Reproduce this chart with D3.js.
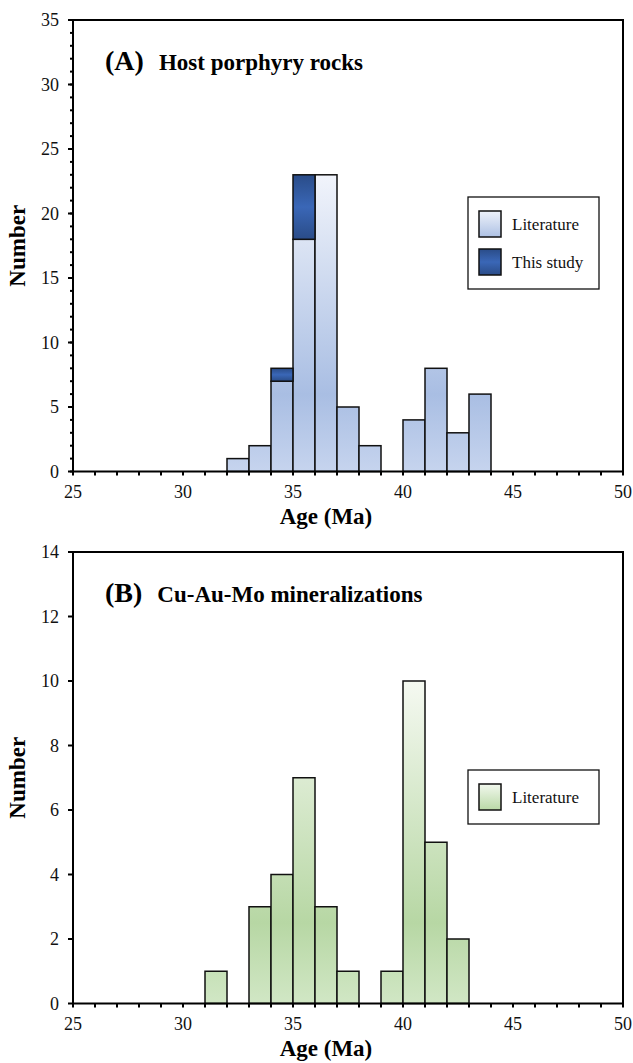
<!DOCTYPE html>
<html>
<head>
<meta charset="utf-8">
<script src="https://cdn.jsdelivr.net/npm/d3@7"></script>
<style>
  html, body { margin: 0; padding: 0; background: #fff; }
</style>
</head>
<body>
<svg id="chart" width="633" height="1063"></svg>
<script>
// Histogram bins: lower edge of each 1 Ma bin (Age, Ma)
const hostBins = [32, 33, 34, 35, 36, 37, 38, 40, 41, 42, 43];
const hostLiterature = [1, 2, 7, 18, 23, 5, 2, 4, 8, 3, 6];
const hostThisStudy = [0, 0, 1, 5, 0, 0, 0, 0, 0, 0, 0];

const mineralBins = [31, 33, 34, 35, 36, 37, 39, 40, 41, 42];
const mineralLiterature = [1, 3, 4, 7, 3, 1, 1, 10, 5, 2];

const ageTicks = [25, 30, 35, 40, 45, 50];
const hostCountTicks = [0, 5, 10, 15, 20, 25, 30, 35];
const mineralCountTicks = [0, 2, 4, 6, 8, 10, 12, 14];

const FONT = "'Liberation Serif', Tinos, 'Times New Roman', Times, serif";

const svg = d3.select("#chart").attr("font-family", FONT);
const defs = svg.append("defs");

function gradient(id, stops, coords) {
  const g = defs.append("linearGradient").attr("id", id);
  if (coords) {
    g.attr("gradientUnits", "userSpaceOnUse")
      .attr("x1", 0).attr("x2", 0).attr("y1", coords[0]).attr("y2", coords[1]);
  } else {
    g.attr("x1", 0).attr("y1", 0).attr("x2", 0).attr("y2", 1);
  }
  stops.forEach(([o, c]) => g.append("stop").attr("offset", o).attr("stop-color", c));
}

const left = 73, right = 623;

function panel(cfg) {
  const { id, top, bottom, yMax, yTicks, yMinor, label, subtitle, series, legend, ramp } = cfg;
  const g = svg.append("g").attr("font-family", FONT);
  const x = d3.scaleLinear().domain([25, 50]).range([left, right]);
  const y = d3.scaleLinear().domain([0, yMax]).range([bottom, top]);

  // shared shading for the panel's bars: light at the tallest bar, deeper lower down
  const peak = d3.max(series[0].values.map((v, i) => v + (series[1] ? series[1].values[i] : 0)));
  gradient(id + "Bars", ramp, [y(peak), bottom]);

  series.forEach(s => {
    const fill = s.fill === "panel" ? id + "Bars" : s.fill;
    g.append("g").selectAll("rect")
      .data(s.bins.map((b, i) => ({ b, v: s.values[i], base: s.base ? s.base[i] : 0 })).filter(d => d.v > 0))
      .join("rect")
      .attr("x", d => x(d.b))
      .attr("width", d => x(d.b + 1) - x(d.b))
      .attr("y", d => y(d.base + d.v))
      .attr("height", d => y(d.base) - y(d.base + d.v))
      .attr("fill", `url(#${fill})`)
      .attr("stroke", "#111")
      .attr("stroke-width", 1.5);
  });

  // frame
  g.append("rect").attr("x", left).attr("y", top)
    .attr("width", right - left).attr("height", bottom - top)
    .attr("fill", "none").attr("stroke", "#000").attr("stroke-width", 2);

  // x axis
  g.append("g").selectAll("line").data(d3.range(25, 51, 1)).join("line")
    .attr("x1", d => x(d)).attr("x2", d => x(d))
    .attr("y1", bottom).attr("y2", bottom + 4)
    .attr("stroke", "#000").attr("stroke-width", 2);
  g.append("g").selectAll("text").data(ageTicks).join("text")
    .attr("x", d => x(d)).attr("y", bottom + 26.5)
    .attr("text-anchor", "middle").attr("font-size", 18).attr("fill", "#111")
    .text(d => d);
  g.append("text").attr("x", 326).attr("y", bottom + 52)
    .attr("text-anchor", "middle").attr("font-size", 23).attr("font-weight", "bold")
    .text("Age (Ma)");

  // y axis
  if (yMinor) {
    g.append("g").selectAll("line").data(d3.range(0, yMax + 1, yMinor)).join("line")
      .attr("x1", left - 3).attr("x2", left)
      .attr("y1", d => y(d)).attr("y2", d => y(d))
      .attr("stroke", "#000").attr("stroke-width", 2);
  }
  g.append("g").selectAll("line").data(yTicks).join("line")
    .attr("x1", left - 5).attr("x2", left)
    .attr("y1", d => y(d)).attr("y2", d => y(d))
    .attr("stroke", "#000").attr("stroke-width", 2);
  g.append("g").selectAll("text").data(yTicks).join("text")
    .attr("x", left - 14).attr("y", d => y(d) + 6)
    .attr("text-anchor", "end").attr("font-size", 18).attr("fill", "#111")
    .text(d => d);
  g.append("text")
    .attr("transform", `translate(25,${(top + bottom) / 2}) rotate(-90)`)
    .attr("text-anchor", "middle").attr("font-size", 23).attr("font-weight", "bold")
    .text("Number");

  // panel title
  const t = g.append("text").attr("x", 105).attr("y", top + 50).attr("font-weight", "bold");
  t.append("tspan").attr("font-size", 28).text(label);
  t.append("tspan").attr("font-size", 23).attr("dx", 15).text(subtitle);

  // legend
  const lg = g.append("g");
  lg.append("rect").attr("x", 468).attr("y", legend.y)
    .attr("width", 131).attr("height", legend.items.length * 38 + 16)
    .attr("fill", "#fff").attr("stroke", "#111").attr("stroke-width", 1.3);
  legend.items.forEach((it, i) => {
    const yy = legend.y + 14 + i * 38;
    lg.append("rect").attr("x", 479).attr("y", yy)
      .attr("width", 22).attr("height", 26)
      .attr("fill", `url(#${it.fill})`).attr("stroke", "#111").attr("stroke-width", 1.5);
    lg.append("text").attr("x", 512).attr("y", yy + 19)
      .attr("font-size", 17).attr("fill", "#111").text(it.name);
  });
}

// swatch shading used in the legends
gradient("swatchBlue", [[0, "#eef2fa"], [1, "#adc1e4"]]);
gradient("swatchGreen", [[0, "#f2f8ee"], [1, "#b9d9a6"]]);
gradient("gradStudy", [[0, "#2a4c88"], [0.5, "#3a67b7"], [1, "#2a4c88"]]);

panel({
  id: "host", top: 20, bottom: 471.5, yMax: 35, yTicks: hostCountTicks, yMinor: 1,
  label: "(A)", subtitle: "Host porphyry rocks",
  ramp: [[0, "#f1f4fb"], [0.74, "#a9bee3"], [1, "#c6d4ee"]],
  series: [
    { bins: hostBins, values: hostLiterature, fill: "panel" },
    { bins: hostBins, values: hostThisStudy, base: hostLiterature, fill: "gradStudy" }
  ],
  legend: { y: 197, items: [{ name: "Literature", fill: "swatchBlue" }, { name: "This study", fill: "gradStudy" }] }
});

panel({
  id: "mineral", top: 552, bottom: 1003.5, yMax: 14, yTicks: mineralCountTicks, yMinor: null,
  label: "(B)", subtitle: "Cu-Au-Mo mineralizations",
  ramp: [[0, "#f5f9f1"], [0.75, "#b7d7a4"], [1, "#d1e7c5"]],
  series: [
    { bins: mineralBins, values: mineralLiterature, fill: "panel" }
  ],
  legend: { y: 770, items: [{ name: "Literature", fill: "swatchGreen" }] }
});
</script>
</body>
</html>
